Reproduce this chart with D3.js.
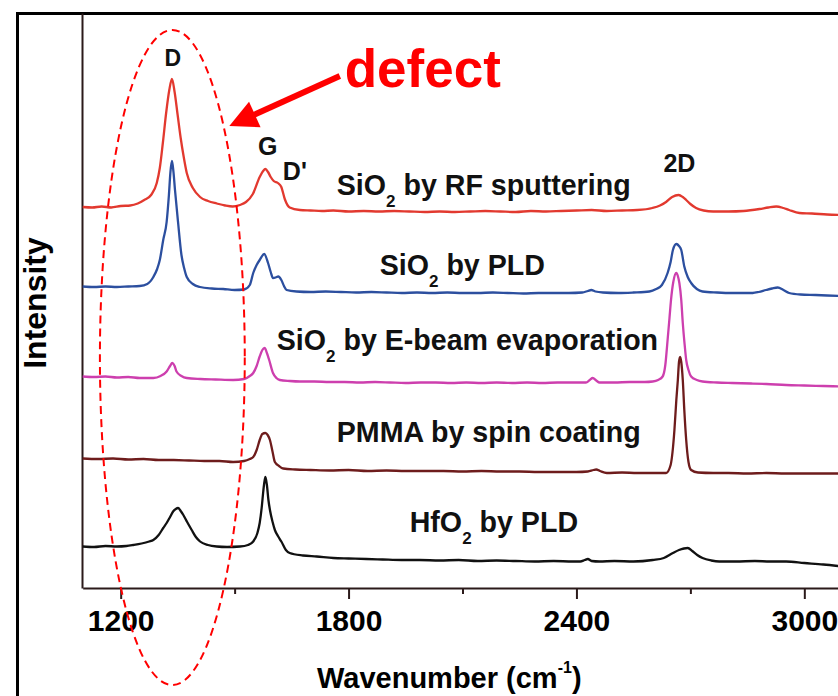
<!DOCTYPE html>
<html>
<head>
<meta charset="utf-8">
<script src="https://cdn.jsdelivr.net/npm/d3@7"></script>
<style>
  body { margin: 0; background: #fff; }
  svg { display: block; }
  text { font-family: "Liberation Sans", Arial, Helvetica, sans-serif; font-weight: bold; }
</style>
</head>
<body>
<svg id="chart" width="838" height="696"></svg>
<script>
// Raman spectra of graphene under different dielectric layers (stacked, offset)
// Each spectrum: [wavenumber (cm^-1), intensity above its own baseline (a.u.)]

const majorTicks = [1200, 1800, 2400, 3000];
const minorTicks = [1500, 2100, 2700];

const seriesLabels = ["SiO|2| by RF sputtering", "SiO|2| by PLD", "SiO|2| by E-beam evaporation", "PMMA by spin coating", "HfO|2| by PLD"];
const seriesColors = ["#e2392f", "#2c4f9f", "#cd3fae", "#6e1c1c", "#111111"];
const seriesOffsets = [76.2, 60.3, 42.3, 25.9, 8.3];
// label anchor (wavenumber, intensity) for each spectrum name
const labelAnchors = [[1769, 78.6], [1882, 62.6], [1611, 47.6], [1769, 29.2], [1961, 11.2]];

const rfSputtering = [
  [1100,0.0],[1125,-0.1],[1150,0.1],[1175,-0.1],[1200,0.2],[1225,0.3],[1245,0.7],[1262,1.4],
  [1280,2.4],[1295,4.8],[1303,7.8],[1311,12.8],[1320,19.0],[1328,23.4],[1335,25.6],[1342,23.0],
  [1350,18.4],[1358,13.8],[1366,10.0],[1374,6.8],[1390,3.8],[1409,2.0],[1430,1.2],[1453,0.7],
  [1475,0.3],[1495,0.1],[1514,0.4],[1530,1.0],[1548,2.6],[1566,6.0],[1575,7.2],[1581,7.6],
  [1588,7.0],[1595,6.0],[1603,5.2],[1614,4.8],[1623,4.0],[1632,1.6],[1645,-0.1],[1672,-0.6],
  [1700,-0.7],[1730,-0.8],[1760,-0.7],[1800,-0.9],[1840,-0.8],[1880,-0.9],[1920,-0.8],[1960,-0.9],
  [2000,-1.0],[2040,-0.9],[2080,-1.0],[2120,-0.9],[2160,-0.8],[2200,-0.9],[2240,-1.0],[2280,-0.8],
  [2320,-0.9],[2360,-0.8],[2400,-0.7],[2440,-0.6],[2480,-0.8],[2520,-0.7],[2560,-0.6],[2600,-0.2],
  [2620,0.3],[2636,1.0],[2652,2.0],[2669,2.4],[2680,2.0],[2689,1.4],[2700,0.6],[2715,-0.2],
  [2735,-0.7],[2760,-0.9],[2800,-0.9],[2840,-0.8],[2882,-0.4],[2905,-0.1],[2926,0.1],[2945,-0.2],
  [2960,-0.6],[2987,-1.2],[3020,-1.3],[3060,-1.5],[3100,-1.6]
];

const pld = [
  [1100,0.0],[1130,-0.1],[1160,0.0],[1190,-0.1],[1220,0.0],[1250,0.1],[1270,0.5],[1286,1.9],
  [1296,3.5],[1303,5.3],[1312,9.3],[1321,12.9],[1327,18.3],[1331,22.9],[1335,25.1],[1339,22.9],
  [1343,19.3],[1351,12.9],[1360,6.3],[1367,3.7],[1374,1.9],[1390,0.5],[1409,-0.1],[1440,-0.4],
  [1470,-0.5],[1500,-0.7],[1525,-0.6],[1540,0.3],[1549,2.7],[1558,4.3],[1566,5.3],[1578,6.5],
  [1588,4.7],[1595,2.9],[1601,1.7],[1608,1.8],[1615,2.0],[1623,1.3],[1630,0.1],[1637,-0.7],
  [1663,-1.0],[1700,-1.1],[1740,-1.0],[1780,-1.1],[1820,-1.2],[1860,-1.1],[1900,-1.2],[1940,-1.3],
  [1980,-1.2],[2020,-1.3],[2060,-1.2],[2100,-1.3],[2140,-1.3],[2180,-1.2],[2220,-1.3],[2260,-1.4],
  [2300,-1.3],[2340,-1.3],[2380,-1.3],[2415,-1.2],[2430,-0.9],[2439,-0.7],[2450,-1.0],[2470,-1.2],
  [2510,-1.3],[2550,-1.2],[2592,-1.0],[2610,-0.5],[2625,0.3],[2640,2.7],[2648,4.9],[2654,7.3],
  [2663,8.5],[2670,8.1],[2676,7.3],[2684,4.0],[2693,1.9],[2702,0.7],[2717,-0.5],[2732,-1.0],
  [2770,-1.2],[2810,-1.3],[2864,-1.3],[2880,-1.1],[2899,-0.7],[2915,-0.4],[2930,-0.2],[2945,-0.7],
  [2960,-1.3],[2990,-1.6],[3030,-1.7],[3060,-1.8],[3100,-1.9]
];

const eBeam = [
  [1100,0.0],[1130,-0.1],[1160,0.0],[1190,-0.2],[1220,-0.1],[1250,-0.3],[1286,-0.3],[1305,0.1],
  [1321,1.0],[1330,2.1],[1336,2.7],[1342,2.1],[1347,1.0],[1360,0.1],[1374,-0.3],[1410,-0.5],
  [1450,-0.6],[1496,-0.7],[1525,-0.5],[1540,0.1],[1549,0.7],[1558,2.1],[1566,4.0],[1573,5.3],
  [1579,5.7],[1585,4.7],[1591,3.3],[1601,0.7],[1610,-0.3],[1619,-0.7],[1645,-0.9],[1672,-1.0],
  [1710,-1.0],[1750,-1.1],[1790,-1.1],[1830,-1.2],[1870,-1.1],[1910,-1.2],[1950,-1.3],[1990,-1.2],
  [2030,-1.2],[2070,-1.3],[2110,-1.2],[2150,-1.3],[2190,-1.2],[2230,-1.3],[2270,-1.2],[2310,-1.3],
  [2350,-1.2],[2390,-1.2],[2425,-1.2],[2435,-0.7],[2443,-0.3],[2452,-0.8],[2461,-1.2],[2500,-1.2],
  [2540,-1.1],[2580,-1.1],[2601,-1.0],[2615,-0.7],[2627,0.0],[2634,2.3],[2640,7.3],[2645,11.7],
  [2649,15.3],[2655,18.9],[2663,20.7],[2667,20.1],[2671,18.7],[2676,15.3],[2680,10.7],[2685,6.3],
  [2689,3.3],[2695,1.3],[2702,0.0],[2717,-0.7],[2732,-1.0],[2770,-1.2],[2810,-1.3],[2860,-1.4],
  [2900,-1.5],[2952,-1.7],[3000,-1.8],[3050,-1.9],[3100,-2.0]
];

const pmma = [
  [1100,0.0],[1140,-0.1],[1180,0.0],[1220,-0.2],[1260,-0.1],[1300,-0.3],[1340,-0.3],[1380,-0.4],
  [1420,-0.5],[1460,-0.5],[1496,-0.7],[1525,-0.5],[1540,-0.1],[1549,0.3],[1558,1.7],[1566,3.7],
  [1573,4.9],[1581,5.1],[1587,4.7],[1593,3.7],[1600,1.3],[1606,-0.7],[1617,-1.5],[1628,-2.0],
  [1660,-2.2],[1700,-2.3],[1750,-2.4],[1800,-2.3],[1850,-2.5],[1900,-2.4],[1950,-2.5],[2000,-2.5],
  [2050,-2.5],[2100,-2.6],[2150,-2.5],[2200,-2.6],[2250,-2.6],[2300,-2.7],[2350,-2.7],[2400,-2.7],
  [2430,-2.6],[2445,-2.3],[2452,-2.2],[2462,-2.5],[2480,-2.9],[2520,-2.8],[2560,-2.9],[2600,-2.9],
  [2636,-2.9],[2648,-1.3],[2653,1.3],[2658,5.7],[2663,11.7],[2667,15.7],[2670,19.3],[2673,20.3],
  [2676,19.3],[2680,15.7],[2684,9.7],[2689,3.7],[2695,-0.7],[2702,-2.3],[2720,-2.8],[2760,-2.9],
  [2800,-2.9],[2850,-3.0],[2900,-2.9],[2950,-3.0],[3000,-3.0],[3050,-3.0],[3100,-3.0]
];

const hfo2 = [
  [1100,0.0],[1130,-0.1],[1160,0.1],[1190,0.0],[1215,0.1],[1233,0.3],[1255,0.6],[1275,1.0],
  [1286,1.3],[1300,2.3],[1312,3.7],[1321,4.7],[1330,5.9],[1338,7.0],[1345,7.5],[1351,7.7],
  [1358,7.1],[1365,6.3],[1375,4.9],[1387,3.3],[1398,1.9],[1409,1.0],[1430,0.3],[1453,0.0],
  [1480,-0.1],[1514,0.0],[1535,0.3],[1549,1.0],[1560,2.7],[1566,4.7],[1572,8.3],[1575,10.7],
  [1578,12.7],[1581,13.9],[1585,12.3],[1589,9.3],[1593,7.3],[1600,4.9],[1606,3.3],[1614,2.1],
  [1623,1.0],[1635,-0.7],[1645,-1.3],[1680,-1.8],[1716,-2.0],[1760,-2.3],[1800,-2.4],[1847,-2.5],
  [1890,-2.6],[1940,-2.7],[1987,-2.7],[2040,-2.8],[2090,-2.7],[2140,-2.9],[2190,-2.8],[2240,-2.9],
  [2290,-3.0],[2340,-2.9],[2390,-3.0],[2410,-3.0],[2422,-2.7],[2430,-2.5],[2440,-2.9],[2460,-3.0],
  [2500,-2.9],[2550,-3.0],[2601,-2.7],[2630,-2.3],[2654,-1.3],[2670,-0.7],[2683,-0.4],[2693,-0.3],
  [2705,-0.9],[2718,-1.7],[2732,-2.3],[2755,-2.8],[2776,-3.0],[2820,-3.0],[2870,-2.9],[2910,-3.0],
  [2952,-3.0],[3000,-3.3],[3050,-3.6],[3100,-4.0]
];

const spectra = [rfSputtering, pld, eBeam, pmma, hfo2];

// Band labels [text, wavenumber, intensity, anchor]
const bandLabels = [["D", 1337, 104.4, "middle"], ["G", 1587, 86.6, "middle"], ["D'", 1627, 81.6, "start"], ["2D", 2671, 83.2, "middle"]];

// Defect annotation: text anchor, arrow tail/tip, ellipse around the D band
const defectText = [1790, 100.2];
const arrowTail = [1777, 102.4];
const arrowTip = [1486, 92.4];
const defectRegion = { center: [1336, 46.1], halfWidth: 190.7, halfHeight: 65.5 };

const svg = d3.select("#chart");
const W = 838, H = 696;
svg.append("rect").attr("width", W).attr("height", H).attr("fill", "#fff");

// outer frame
svg.append("rect")
  .attr("x", 17.5).attr("y", 13.5).attr("width", 900).attr("height", 800)
  .attr("fill", "none").attr("stroke", "#000").attr("stroke-width", 3);

const x = d3.scaleLinear().domain([1100, 3100]).range([82.7, 842.3]);
const y = d3.scaleLinear().domain([0, 115]).range([588, 13]);

const axisColor = "#2b1a1a";

// y axis: plain line, no ticks
const yAxis = svg.append("g").attr("transform", `translate(${x(1100) - 0.7},0)`)
  .call(d3.axisLeft(y).tickValues([]).tickSizeOuter(0));
yAxis.select(".domain").attr("stroke", axisColor).attr("stroke-width", 2);

// x axis: labelled major ticks and unlabelled minor ticks
const xAxis = svg.append("g").attr("transform", `translate(0,${y(0)})`)
  .call(d3.axisBottom(x).tickValues(majorTicks).tickSize(11).tickPadding(11).tickSizeOuter(0).tickFormat(d3.format("d")));
xAxis.select(".domain").attr("stroke", axisColor).attr("stroke-width", 2);
xAxis.selectAll(".tick line").attr("stroke", axisColor).attr("stroke-width", 2);
xAxis.selectAll(".tick text").attr("fill", "#000")
  .style("font-size", "30px").style("font-family", '"Liberation Sans", Arial, sans-serif').style("font-weight", "bold");

const xMinor = svg.append("g").attr("transform", `translate(0,${y(0)})`)
  .call(d3.axisBottom(x).tickValues(minorTicks).tickSize(6).tickFormat(""));
xMinor.select(".domain").remove();
xMinor.selectAll(".tick line").attr("stroke", axisColor).attr("stroke-width", 2);

// axis titles
const xTitle = svg.append("text").attr("x", 317).attr("y", 688)
  .attr("fill", "#000").style("font-size", "29px");
xTitle.append("tspan").text("Wavenumber (cm");
xTitle.append("tspan").attr("dy", -15).style("font-size", "16px").text("-1");
xTitle.append("tspan").attr("dy", 15).text(")");

svg.append("text")
  .attr("transform", "translate(46,303) rotate(-90)")
  .attr("text-anchor", "middle").attr("fill", "#000")
  .style("font-size", "32px").text("Intensity");

// spectra
const line = d3.line()
  .x(d => x(d[0]))
  .curve(d3.curveMonotoneX);

spectra.forEach((s, i) => {
  svg.append("path")
    .datum(s)
    .attr("fill", "none")
    .attr("stroke", seriesColors[i])
    .attr("stroke-width", 2.3)
    .attr("stroke-linejoin", "round")
    .attr("d", line.y(d => y(d[1] + seriesOffsets[i])));
});

// spectrum names (with subscripts marked by |..|)
seriesLabels.forEach((lab, i) => {
  const t = svg.append("text")
    .attr("x", x(labelAnchors[i][0])).attr("y", y(labelAnchors[i][1]))
    .attr("fill", "#111").style("font-size", "28.6px");
  const parts = lab.split("|");
  parts.forEach((p, k) => {
    if (k % 2 === 1) {
      t.append("tspan").attr("dy", 12).style("font-size", "17px").text(p);
    } else if (k > 0) {
      t.append("tspan").attr("dy", -12).text(p);
    } else {
      t.append("tspan").text(p);
    }
  });
});

// band labels
bandLabels.forEach(b => {
  svg.append("text")
    .attr("x", x(b[1])).attr("y", y(b[2]))
    .attr("text-anchor", b[3]).attr("fill", "#111")
    .style("font-size", b[0] === "D" ? "23px" : "25px").text(b[0]);
});

// defect annotation
const red = "#ff0000";
svg.append("ellipse")
  .attr("cx", x(defectRegion.center[0])).attr("cy", y(defectRegion.center[1]))
  .attr("rx", x(defectRegion.center[0] + defectRegion.halfWidth) - x(defectRegion.center[0]))
  .attr("ry", y(0) - y(defectRegion.halfHeight))
  .attr("fill", "none").attr("stroke", red).attr("stroke-width", 2)
  .attr("stroke-dasharray", "8,5");

const tx = x(arrowTail[0]), ty = y(arrowTail[1]);
const px = x(arrowTip[0]), py = y(arrowTip[1]);
const len = Math.hypot(px - tx, py - ty);
const ux = (px - tx) / len, uy = (py - ty) / len;
const headLen = 28, headHalf = 14;
const bx = px - headLen * ux, by = py - headLen * uy;
svg.append("line")
  .attr("x1", tx).attr("y1", ty).attr("x2", bx + 2 * ux).attr("y2", by + 2 * uy)
  .attr("stroke", red).attr("stroke-width", 6);
svg.append("polygon")
  .attr("points", [[px, py], [bx - headHalf * uy, by + headHalf * ux], [bx + headHalf * uy, by - headHalf * ux]].map(p => p.join(",")).join(" "))
  .attr("fill", red);

svg.append("text")
  .attr("x", x(defectText[0])).attr("y", y(defectText[1]))
  .attr("fill", red).style("font-size", "53px").text("defect");
</script>
</body>
</html>
